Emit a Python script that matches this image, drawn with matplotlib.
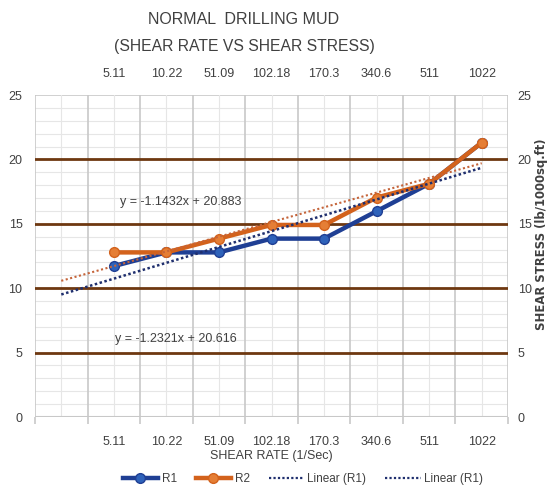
import numpy as np
import matplotlib
matplotlib.use("Agg")
import matplotlib.pyplot as plt
from matplotlib.lines import Line2D

plt.rcParams['font.family'] = ['Liberation Sans', 'DejaVu Sans']

categories = ['', '5.11', '10.22', '51.09', '102.18', '170.3', '340.6', '511', '1022']
r1 = [11.72, 12.78, 12.78, 13.85, 13.85, 15.98, 18.11, 21.3]
r2 = [12.78, 12.78, 13.85, 14.91, 14.91, 17.04, 18.11, 21.3]
eq1_text = 'y = -1.1432x + 20.883'
eq2_text = 'y = -1.2321x + 20.616'

TXT = '#404040'
fig = plt.figure(figsize=(5.52, 4.94), dpi=100)
ax = fig.add_axes([35/552, 1-417/494, (508-35)/552, (417-95)/494])

n = len(categories)
ax.set_xlim(-0.5, n - 0.5)
ax.set_ylim(0, 25)

# grid
for y in np.arange(1, 25, 1):
    if y % 5 == 0:
        ax.axhline(y, color='#6E3810', lw=2.0, zorder=2)
    else:
        ax.axhline(y, color='#E6E6E6', lw=0.8, zorder=1)
ax.axhline(25, color='#C8C8C8', lw=1.2, zorder=1)
for i in range(n):
    ax.axvline(i, color='#E6E6E6', lw=0.8, zorder=1)
for b in np.arange(-0.5, n, 1):
    ax.axvline(b, color='#C8C8C8', lw=1.2, zorder=1)

for s in ax.spines.values():
    s.set_visible(False)
ax.axhline(0, color='#C8C8C8', lw=1.5, zorder=3)

xd = np.arange(1, n)
ax.plot(xd, r1, color='#1F3F94', lw=3.2, marker='o', ms=7,
        mfc='#2E62BA', mec='#1F3F94', zorder=5)
ax.plot(xd, r2, color='#D3621C', lw=3.2, marker='o', ms=7,
        mfc='#E57E35', mec='#D3621C', zorder=6)

# trendlines (linear fit, forecast back one period)
xt = np.array([0, n - 1])
p1 = np.polyfit(xd, r1, 1)
p2 = np.polyfit(xd, r2, 1)
ax.plot(xt, np.polyval(p2, xt), color='#C5643A', lw=1.5, ls=(0, (1, 1.2)), zorder=7)
ax.plot(xt, np.polyval(p1, xt), color='#1F2F6E', lw=1.8, ls=(0, (1, 1)), zorder=8)

ax.text(2.28, 16.7, eq1_text, fontsize=9, ha='center', va='center', color=TXT, zorder=9)
ax.text(2.18, 6.05, eq2_text, fontsize=9, ha='center', va='center', color=TXT, zorder=9)

# bottom axis
ax.set_xticks(np.arange(-0.5, n, 1))
ax.set_xticklabels([])
ax.set_xticks(np.arange(0, n), minor=True)
ax.set_xticklabels(categories, minor=True, fontsize=9, color=TXT)
ax.tick_params(axis='x', which='major', length=5, color='#C8C8C8', width=1.2)
ax.tick_params(axis='x', which='minor', length=0, pad=14)
ax.set_yticks(np.arange(0, 26, 5))
ax.tick_params(axis='y', length=0, labelsize=9, labelcolor=TXT, pad=9)

# top axis
axt = ax.twiny()
axt.set_xlim(ax.get_xlim())
axt.set_xticks(np.arange(0, n))
axt.set_xticklabels(categories, fontsize=9, color=TXT)
axt.tick_params(axis='x', length=0, pad=11)
for s in axt.spines.values():
    s.set_visible(False)

# right axis
axr = ax.twinx()
axr.set_ylim(0, 25)
axr.set_yticks(np.arange(0, 26, 5))
axr.tick_params(axis='y', length=0, labelsize=9, labelcolor=TXT, pad=7)
for s in axr.spines.values():
    s.set_visible(False)
fig.text(542/552, 1-234/494, 'SHEAR STRESS (lb/1000sq.ft)', rotation=90,
         ha='center', va='center', fontsize=8.4, weight='bold', color=TXT,
         family='DejaVu Sans')

fig.text(271/552, 1-456/494, 'SHEAR RATE (1/Sec)', ha='center', va='center',
         fontsize=9, color=TXT)

fig.text(244/552, 1-19/494, 'NORMAL  DRILLING MUD', ha='center', va='center',
         fontsize=11.5, color=TXT)
fig.text(244/552, 1-47/494, '(SHEAR RATE VS SHEAR STRESS)', ha='center', va='center',
         fontsize=11.3, color=TXT)

handles = [
    Line2D([], [], color='#1F3F94', lw=3.2, marker='o', ms=7, mfc='#2E62BA', mec='#1F3F94'),
    Line2D([], [], color='#D3621C', lw=3.2, marker='o', ms=7, mfc='#E57E35', mec='#D3621C'),
    Line2D([], [], color='#1F2F6E', lw=1.6, ls=(0, (1, 1))),
    Line2D([], [], color='#1F2F6E', lw=1.6, ls=(0, (1, 1))),
]
labels = ['R1', 'R2', 'Linear (R1)', 'Linear (R1)']
fig.legend(handles, labels, loc='center', bbox_to_anchor=(303/552, 1-479/494), ncol=4,
           frameon=False, fontsize=8.5, handlelength=3.0, handletextpad=0.3,
           columnspacing=1.6, labelcolor=TXT, borderpad=0)

fig.savefig('out.png', dpi=100)
